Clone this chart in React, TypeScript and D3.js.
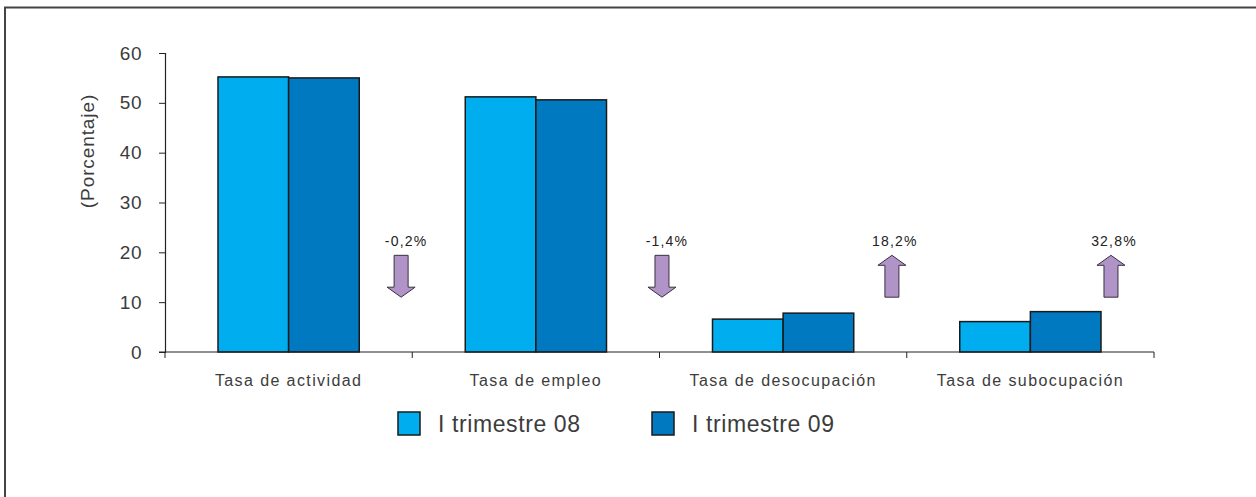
import { useEffect, useRef } from 'react';
import * as d3 from 'd3';

const categories = ['Tasa de actividad', 'Tasa de empleo', 'Tasa de desocupación', 'Tasa de subocupación'];
const seriesNames = ['I trimestre 08', 'I trimestre 09'];
const values08 = [55.2, 51.2, 6.6, 6.1];
const values09 = [55.0, 50.6, 7.8, 8.1];
const changeLabels = ['-0,2%', '-1,4%', '18,2%', '32,8%'];
const changeDirection = ['down', 'down', 'up', 'up'];
const yTicks = [0, 10, 20, 30, 40, 50, 60];

const COLORS = ['#00AEEF', '#0079C1'];
const FONT = '"Liberation Sans", Arial, sans-serif';
const TEXT = '#3c3c3c';

// where the arrows sit inside each category band (fraction of band width)
const arrowOffset = [0.955, 1.01, 0.94, 0.826];

export default function App() {
    const axesRef = useRef<SVGGElement>(null);

    const W = 1256;
    const H = 497;
    const margin = { left: 165, right: 102, top: 53, bottom: 145 };

    const x0 = d3.scaleBand<string>().domain(categories).range([margin.left, W - margin.right]).padding(0);
    const x1 = d3.scaleBand<string>().domain(seriesNames).range([53, x0.bandwidth() - 53]).padding(0);
    const y = d3.scaleLinear().domain([0, 60]).range([352, margin.top]);

    useEffect(() => {
        const g = d3.select(axesRef.current);
        g.selectAll('*').remove();

        const yAxis = d3.axisLeft(y).tickValues(yTicks).tickSize(6).tickPadding(17).tickFormat(d3.format('d'));
        const ya = g.append('g').attr('transform', `translate(${margin.left},0)`).call(yAxis);
        ya.selectAll('text').attr('font-size', 19).attr('font-family', FONT).attr('fill', TEXT)
            .attr('letter-spacing', 0.5);

        // x axis with ticks on category boundaries
        const xa = g.append('g').attr('transform', `translate(0,${y(0)})`);
        xa.append('line').attr('x1', margin.left - 6).attr('x2', W - margin.right)
            .attr('stroke', '#222').attr('stroke-width', 1.2);
        const bounds = categories.map((c) => x0(c)!).concat([x0(categories[categories.length - 1])! + x0.bandwidth()]);
        xa.selectAll('line.tick').data(bounds).enter().append('line')
            .attr('class', 'tick')
            .attr('x1', (d) => d).attr('x2', (d) => d)
            .attr('y1', 0).attr('y2', 6)
            .attr('stroke', '#222');
        xa.selectAll('text').data(categories).enter().append('text')
            .attr('x', (d) => x0(d)! + x0.bandwidth() / 2)
            .attr('y', 34)
            .attr('text-anchor', 'middle')
            .attr('font-size', 16)
            .attr('letter-spacing', 1.4)
            .attr('font-family', FONT)
            .attr('fill', TEXT)
            .text((d) => d);

        ya.select('.domain').attr('stroke', '#222').attr('stroke-width', 1.2);
        ya.selectAll('.tick line').attr('stroke', '#222');
    }, []);

    const arrowPath = (cx: number, dir: string) => {
        const top = y(19.4);
        const bottom = y(11);
        const sw = 7;
        const hw = 14;
        const head = 10;
        if (dir === 'down') {
            return `M${cx - sw},${top} L${cx + sw},${top} L${cx + sw},${bottom - head} L${cx + hw},${bottom - head} L${cx},${bottom} L${cx - hw},${bottom - head} L${cx - sw},${bottom - head} Z`;
        }
        return `M${cx - sw},${bottom} L${cx + sw},${bottom} L${cx + sw},${top + head} L${cx + hw},${top + head} L${cx},${top} L${cx - hw},${top + head} L${cx - sw},${top + head} Z`;
    };

    const legendX = [398, 652];

    return (
        <svg width={W} height={H} style={{ position: 'absolute', left: 0, top: 0, background: '#fff' }}>
            {/* frame */}
            <line x1={4} x2={W} y1={7.5} y2={7.5} stroke="#444" strokeWidth={2} />
            <line x1={5} x2={5} y1={7} y2={H} stroke="#444" strokeWidth={2} />

            {categories.map((c, i) => (
                <g key={c} transform={`translate(${x0(c)},0)`}>
                    {[values08[i], values09[i]].map((v, j) => (
                        <rect key={j}
                            x={x1(seriesNames[j])}
                            y={y(v)}
                            width={x1.bandwidth()}
                            height={y(0) - y(v)}
                            fill={COLORS[j]}
                            stroke="#1a1a1a"
                            strokeWidth={1.5} />
                    ))}
                </g>
            ))}

            <g ref={axesRef} />

            <text transform={`translate(94,151) rotate(-90)`} textAnchor="middle"
                fontSize={19} letterSpacing={0.9} fontFamily={FONT} fill={TEXT}>(Porcentaje)</text>

            {categories.map((c, i) => {
                const cx = x0(c)! + x0.bandwidth() * arrowOffset[i];
                return (
                    <g key={'a' + c}>
                        <text x={cx + (changeDirection[i] === 'down' ? 5 : 3)} y={y(22.2) + 5} textAnchor="middle"
                            fontSize={14} letterSpacing={1.2} fontFamily={FONT} fill="#222">{changeLabels[i]}</text>
                        <path d={arrowPath(cx, changeDirection[i])} fill="#B094C8" stroke="#3a3040" strokeWidth={1} />
                    </g>
                );
            })}

            {seriesNames.map((s, i) => (
                <g key={s} transform={`translate(${legendX[i]},412)`}>
                    <rect x={0} y={0} width={22} height={23} fill={COLORS[i]} stroke="#1a1a1a" strokeWidth={1.5} />
                    <text x={40} y={20} fontSize={23} letterSpacing={0.6} fontFamily={FONT} fill={TEXT}>{s}</text>
                </g>
            ))}
        </svg>
    );
}
